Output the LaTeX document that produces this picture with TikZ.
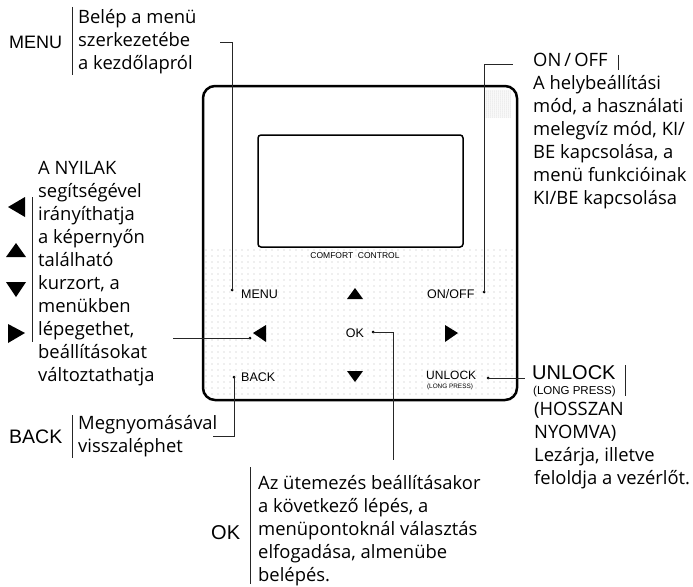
\documentclass[tikz,border=0pt]{standalone}
\usepackage{fontspec}
\setmainfont{Open Sans}
\newfontfamily\arial{Liberation Sans}
\begin{document}
\begin{tikzpicture}[x=1pt,y=-1pt,
  txt/.style={anchor=west, inner sep=0pt, font=\fontsize{18.4}{23}\selectfont, align=left},
  big/.style={anchor=west, inner sep=0pt, font=\arial\fontsize{18}{20}\selectfont},
  btn/.style={inner sep=0pt, font=\arial\fontsize{12.5}{14}\selectfont},
  conn/.style={line width=0.9pt, black!85},
  bar/.style={line width=0.9pt, black!85},
  enddot/.style={circle, fill=black, inner sep=0pt, minimum size=3pt},
  tri/.style={fill=black}
]
\useasboundingbox (0,0) rectangle (693,586);

% ---------- device ----------
\begin{scope}
  \clip[rounded corners=12] (203,86) rectangle (517,400);
  \foreach \yy in {250,256,...,398} {
    \foreach \xx in {206,212,...,516} {
      \fill[black!28] (\xx,\yy) circle (0.55);
    }
  }
  \foreach \yy in {91,93,...,117} {
    \foreach \xx in {486,488,...,511} {
      \fill[black!30] (\xx,\yy) circle (0.5);
    }
  }
\end{scope}
\draw[line width=2.5pt, rounded corners=12] (203,86) rectangle (517,400);
\draw[line width=1.5pt, rounded corners=3, fill=white] (258,135) rectangle (463,247);
\node[inner sep=0pt, font=\arial\fontsize{8.5}{10}\selectfont] (cc) at (355,256) {COMFORT\ \ CONTROL};

% device buttons
\node[btn, anchor=west] (bmenu) at (241,294) {MENU};
\node[btn, anchor=west] (bonoff) at (427,294) {ON/OFF};
\node[btn] (bok) at (355,333) {OK};
\node[btn, anchor=west] (bback) at (241,377) {BACK};
\node[btn, anchor=west, font=\arial\fontsize{12}{14}\selectfont] (bunlock) at (426,375) {UNLOCK};
\node[inner sep=0pt, font=\arial\fontsize{6.4}{7}\selectfont] (blong) at (450,387) {(LONG PRESS)};
\fill[tri] (347,299) -- (355,288) -- (363,299) -- cycle;
\fill[tri] (347,371) -- (363,371) -- (355,382) -- cycle;
\fill[tri] (253,333) -- (266,325) -- (266,342) -- cycle;
\fill[tri] (445,325) -- (445,342) -- (458,333) -- cycle;

% end dots
\node[enddot] (dmenu) at (232,290) {};
\node[enddot] (donoff) at (484,292) {};
\node[enddot] (dleft) at (250,338) {};
\node[enddot] (dok) at (373,332) {};
\node[enddot] (dback) at (234,377) {};
\node[enddot] (dunlock) at (488,378) {};

\coordinate (cmenu) at (220,42);
\coordinate (conoff) at (513,64);
\coordinate (cleft) at (173,338);
\coordinate (cok) at (393,460);
\coordinate (cback) at (213,436);
\coordinate (cunlock) at (525,378);

\draw[conn] (dmenu.center) |- (cmenu);
\draw[conn] (donoff.center) |- (conoff);
\draw[conn] (dleft.center) -- (cleft);
\draw[conn] (dok.center) -| (cok);
\draw[conn] (dback.center) |- (cback);
\draw[conn] (dunlock.center) -- (cunlock);

% ---------- MENU legend ----------
\node[big] (lmenu) at (9,42) {MENU};
\draw[bar] (72,7) -- (72,75);
\node[txt] (tmenu) at (78,42) {Belép a menü\\szerkezetébe\\a kezdőlapról};

% ---------- arrows legend ----------
\fill[tri] (8,207) -- (25,197) -- (25,217) -- cycle;
\fill[tri] (6,257) -- (16,243) -- (26,257) -- cycle;
\fill[tri] (6,282) -- (26,282) -- (16,297) -- cycle;
\fill[tri] (8,324) -- (8,343) -- (25,333) -- cycle;
\draw[bar] (32,197) -- (32,342);
\node[txt] (tarrows) at (38,274) {A NYILAK\\segítségével\\irányíthatja\\a képernyőn\\található\\kurzort, a\\menükben\\lépegethet,\\beállításokat\\változtathatja};

% ---------- BACK legend ----------
\node[big, font=\arial\fontsize{19.5}{20}\selectfont] (lback) at (9,437) {BACK};
\draw[bar] (72,415) -- (72,458);
\node[txt] (tback) at (78,436) {Megnyomásával\\visszaléphet};

% ---------- ON/OFF legend ----------
\node[txt] (tonoff) at (533,131) {ON\,/\,OFF\\A helybeállítási\\mód, a használati\\melegvíz mód, KI/\\BE kapcsolása, a\\menü funkcióinak\\KI/BE kapcsolása};
\draw[bar] (618,55) -- (618,70);

% ---------- UNLOCK legend ----------
\node[big, font=\arial\fontsize{20}{22}\selectfont] (lunlock) at (532,373) {UNLOCK};
\node[inner sep=0pt, anchor=west, font=\arial\fontsize{11.5}{12}\selectfont] (llong) at (533,392) {(LONG PRESS)};
\draw[bar] (625,365) -- (625,396);
\node[txt] (tunlock) at (534,446) {(HOSSZAN\\NYOMVA)\\Lezárja, illetve\\feloldja a vezérlőt.};

% ---------- OK legend ----------
\node[big, font=\arial\fontsize{20}{22}\selectfont] (lok) at (211,533) {OK};
\draw[bar] (250,467) -- (250,584);
\node[txt] (tok) at (258,531) {Az ütemezés beállításakor\\a következő lépés, a\\menüpontoknál választás\\elfogadása, almenübe\\belépés.};
\end{tikzpicture}
\end{document}
